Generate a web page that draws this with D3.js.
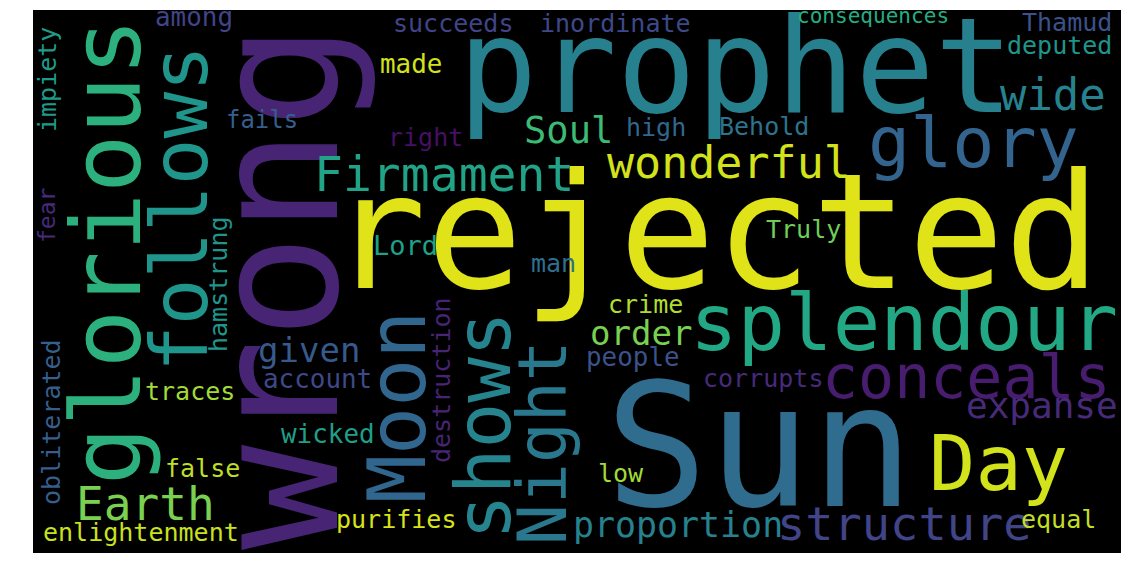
<!DOCTYPE html>
<html>
<head>
<meta charset="utf-8">
<script src="https://cdn.jsdelivr.net/npm/d3@7"></script>
<style>
    body { margin: 0; background: #fff; }
</style>
</head>
<body>
<div id="chart"></div>
<script>
"use strict";

// words and their relative weight (1 = largest)
var words = ["wrong", "Sun", "rejected", "glorious", "prophet", "splendour", "follows", "Moon",
    "shows", "Day", "glory", "Night", "conceals", "Firmament", "Earth", "wonderful",
    "structure", "wide", "Soul", "expanse", "proportion", "order", "given",
    "among", "succeeds", "inordinate", "consequences", "Thamud", "deputed", "made",
    "fails", "right", "high", "Behold", "Lord", "Truly", "man", "crime", "people",
    "corrupts", "account", "traces", "wicked", "false", "low", "purifies",
    "enlightenment", "equal", "impiety", "fear", "hamstrung", "destruction", "obliterated"];

var weights = [0.972, 0.95, 0.889, 0.539, 0.733, 0.439, 0.431, 0.444,
    0.422, 0.428, 0.389, 0.378, 0.333, 0.267, 0.256, 0.25,
    0.261, 0.244, 0.206, 0.2, 0.194, 0.189, 0.189,
    0.144, 0.139, 0.139, 0.117, 0.139, 0.139, 0.144,
    0.133, 0.139, 0.139, 0.139, 0.15, 0.139, 0.139, 0.139, 0.144,
    0.139, 0.144, 0.139, 0.144, 0.139, 0.139, 0.139,
    0.139, 0.139, 0.139, 0.128, 0.139, 0.139, 0.139];

// colour of each word as a position on the viridis map
var tones = [0.1, 0.35, 0.95, 0.64, 0.43, 0.6, 0.52, 0.33,
    0.45, 0.93, 0.32, 0.4, 0.08, 0.58, 0.8, 0.93,
    0.2, 0.44, 0.68, 0.12, 0.44, 0.8, 0.28,
    0.2, 0.2, 0.22, 0.62, 0.25, 0.52, 0.93,
    0.3, 0.04, 0.33, 0.38, 0.57, 0.78, 0.36, 0.88, 0.25,
    0.12, 0.22, 0.86, 0.56, 0.9, 0.86, 0.94,
    0.92, 0.91, 0.55, 0.12, 0.52, 0.1, 0.3];

// placement inside the cloud box: baseline start x, y and rotation
var placement = [
    [304, 540, -90], [572, 496, 0], [297, 278, 0], [107, 475, -90], [425, 102, 0],
    [657, 340, 0], [174, 362, -90], [392, 493, -90], [477, 530, -90], [896, 480, 0],
    [835, 157, 0], [533, 535, -90], [789, 388, 0], [281, 181, 0], [43, 510, 0],
    [574, 168, 0], [744, 530, 0], [967, 100, 0], [491, 133, 0], [933, 408, 0],
    [540, 527, 0], [557, 335, 0], [225, 352, 0], [122, 16, 0], [360, 22, 0],
    [507, 22, 0], [764, 13, 0], [989, 21, 0], [974, 44, 0], [347, 63, 0],
    [193, 118, 0], [355, 136, 0], [593, 126, 0], [686, 125, 0], [340, 245, 0],
    [733, 228, 0], [498, 262, 0], [575, 303, 0], [553, 356, 0], [670, 377, 0],
    [230, 378, 0], [112, 390, 0], [248, 433, 0], [132, 467, 0], [565, 472, 0],
    [303, 518, 0], [10, 531, 0], [988, 518, 0], [23, 122, -90], [22, 233, -90],
    [194, 342, -90], [417, 453, -90], [27, 495, -90]
];

var box = { left: 33, top: 10, w: 1088, h: 543 };

var x = d3.scaleLinear().domain([0, 1088]).range([box.left, box.left + box.w]);
var y = d3.scaleLinear().domain([0, 543]).range([box.top, box.top + box.h]);
var size = d3.scaleLinear().domain([0, 1]).range([0, 180]);

var cloud = words.map(function(w, i) {
    return { text: w, weight: weights[i], tone: tones[i],
        px: placement[i][0], py: placement[i][1], rot: placement[i][2] };
});

var svg = d3.select("#chart").append("svg")
    .attr("width", 1131)
    .attr("height", 578);

svg.append("rect")
    .attr("x", box.left)
    .attr("y", box.top)
    .attr("width", box.w)
    .attr("height", box.h)
    .attr("fill", "#000");

svg.selectAll("text.word")
    .data(cloud)
    .enter()
    .append("text")
    .attr("class", "word")
    .attr("transform", function(d) {
        return "translate(" + x(d.px) + "," + y(d.py) + ") rotate(" + d.rot + ")";
    })
    .style("font-family", "'DejaVu Sans Mono', monospace")
    .style("font-size", function(d) { return size(d.weight) + "px"; })
    .attr("fill", function(d) { return d3.interpolateViridis(d.tone); })
    .text(function(d) { return d.text; });
</script>
</body>
</html>
